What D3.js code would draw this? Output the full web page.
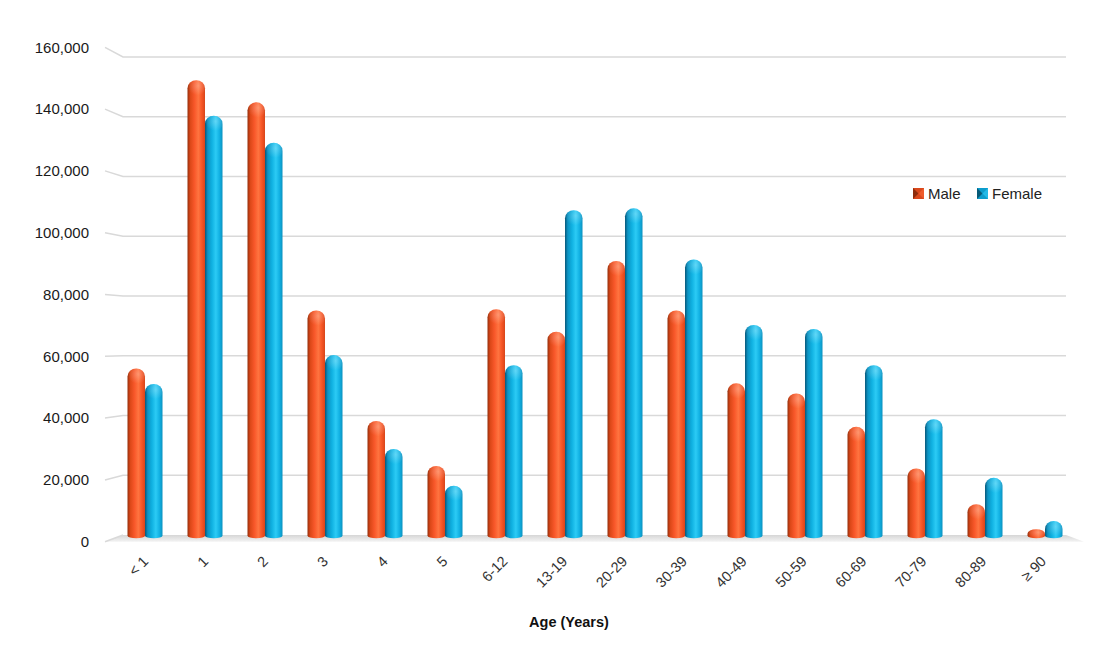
<!DOCTYPE html>
<html><head><meta charset="utf-8">
<script src="https://cdn.jsdelivr.net/npm/d3@7"></script>
<style>body{margin:0;background:#fff}svg{display:block}</style>
</head><body>
<svg id="c" width="1113" height="653"></svg>
<script>
const categories = ["< 1","1","2","3","4","5","6-12","13-19","20-29","30-39","40-49","50-59","60-69","70-79","80-89","\u2265 90"];
const seriesNames = ["Male","Female"];
const maleValues = [55900,150800,143500,75000,38600,23800,75400,68000,91300,75000,51000,47700,36700,23000,11200,3000];
const femaleValues = [50800,139100,130200,60300,29400,17300,57000,108000,108600,91800,70200,68900,57000,39200,19900,5700];
const yTicks = [0,20000,40000,60000,80000,100000,120000,140000,160000];
const xTitle = "Age (Years)";

const svg = d3.select("#c");
const font = "'Liberation Sans', Arial, sans-serif";

const yFront = d3.scaleLinear().domain([0,160000]).range([541.7,47.3]);
const yBack = d3.scaleLinear().domain([0,160000]).range([535,57]);
const yBar = d3.scaleLinear().domain([0,160000]).range([538.3,52.2]);
const x0 = d3.scalePoint().domain(categories).range([115,1075]).padding(0.5);
const xLabel = d3.scalePoint().domain(categories).range([116.2,1073.8]).padding(0.5);
const x1 = d3.scaleBand().domain(seriesNames).range([-17.5,17.5]);

const defs = svg.append("defs");
function cylGrad(id, stops){
  const g = defs.append("linearGradient").attr("id",id).attr("x1","0").attr("x2","1").attr("y1","0").attr("y2","0");
  stops.forEach(s=>g.append("stop").attr("offset",s[0]).attr("stop-color",s[1]));
}
cylGrad("gM",[[0,"#962f0c"],[0.16,"#dc4818"],[0.4,"#f8582a"],[0.62,"#ff7440"],[0.82,"#f65525"],[1,"#d8461a"]]);
cylGrad("gF",[[0,"#08587a"],[0.16,"#0c94c4"],[0.4,"#10b2e2"],[0.62,"#2ccbf5"],[0.82,"#12b2e4"],[1,"#0c92c0"]]);
const fg = defs.append("linearGradient").attr("id","floor").attr("x1","0").attr("x2","0").attr("y1","0").attr("y2","1");
fg.append("stop").attr("offset",0).attr("stop-color","#d6d6d6");
fg.append("stop").attr("offset",1).attr("stop-color","#f3f3f3");
const capG = defs.append("radialGradient").attr("id","cap").attr("cx","0.6").attr("cy","0.35").attr("r","0.6");
capG.append("stop").attr("offset",0).attr("stop-color","#fff").attr("stop-opacity",0.25);
capG.append("stop").attr("offset",1).attr("stop-color","#fff").attr("stop-opacity",0);

// floor
const fl = 105, bl = 123, br = 1066, fr = 1084;
svg.append("path")
  .attr("d",`M${fl},${yFront(0)}L${bl},${yBack(0)}L${br},${yBack(0)}L${fr},${yFront(0)}Z`)
  .attr("fill","url(#floor)");

// gridlines
svg.append("g").selectAll("path").data(yTicks).join("path")
  .attr("d",t=>`M${fl},${yFront(t)}L${bl},${yBack(t)}` + (t>0?`L${br},${yBack(t)}`:""))
  .attr("fill","none").attr("stroke","#d9d9d9").attr("stroke-width",1.5);

// y labels
svg.append("g").selectAll("text").data(yTicks).join("text")
  .attr("x",89).attr("y",t=>yFront(t)).attr("dy","0.35em")
  .attr("text-anchor","end").attr("font-family",font).attr("font-size",15).attr("fill","#1a1a1a")
  .text(d3.format(","));

// bars
const rows = categories.map((c,i)=>({c, vals:[{s:"Male",v:maleValues[i]},{s:"Female",v:femaleValues[i]}]}));
function barPath(x, w, v){
  const base = yBar(0), top = yBar(v);
  const h = base - top;
  const rx = w/2;
  const ry = Math.min(8, h/2);
  const by = Math.min(2.5, h/2);
  return `M${x},${base-by}L${x},${top+ry}A${rx},${ry} 0 0 1 ${x+w},${top+ry}L${x+w},${base-by}A${rx},${by} 0 0 1 ${x},${base-by}Z`;
}
const g = svg.append("g").selectAll("g").data(rows).join("g")
  .attr("transform",d=>`translate(${x0(d.c)},0)`);
g.selectAll("path.bar").data(d=>d.vals).join("path").attr("class","bar")
  .attr("d",d=>barPath(x1(d.s), x1.bandwidth(), d.v))
  .attr("fill",d=>d.s==="Male"?"url(#gM)":"url(#gF)");
g.selectAll("ellipse").data(d=>d.vals).join("ellipse")
  .attr("cx",d=>x1(d.s)+x1.bandwidth()/2)
  .attr("cy",d=>yBar(d.v)+Math.min(8,(yBar(0)-yBar(d.v))/2))
  .attr("rx",x1.bandwidth()/2).attr("ry",d=>Math.min(8,(yBar(0)-yBar(d.v))/2))
  .attr("fill","url(#cap)");

// x labels
svg.append("g").selectAll("text").data(categories).join("text")
  .attr("transform",c=>`translate(${xLabel(c)-4},${555}) rotate(-45)`)
  .attr("text-anchor","end").attr("dy","0.7em")
  .attr("font-family",font).attr("font-size",14.5).attr("fill","#333")
  .text(c=>c);

// x title
svg.append("text").attr("x",569).attr("y",622).attr("dy","0.35em")
  .attr("text-anchor","middle").attr("font-family",font).attr("font-weight","bold")
  .attr("font-size",14.5).attr("fill","#111").text(xTitle);

// legend
const legend = svg.append("g");
const legX = [913, 977];
const legCol = {Male:["#d9481c","#8e2c0c","#f26030"], Female:["#0c9ccc","#075a78","#28c0ee"]};
seriesNames.forEach((s,i)=>{
  const lg = legend.append("g").attr("transform",`translate(${legX[i]},188)`);
  const c = legCol[s];
  lg.append("rect").attr("width",11).attr("height",11).attr("fill",c[0]);
  lg.append("path").attr("d","M0,0L5.5,5.5L0,11Z").attr("fill",c[1]);
  lg.append("path").attr("d","M11,0L5.5,5.5L11,11Z").attr("fill",c[2]).attr("opacity",0.8);
  lg.append("text").attr("x",15).attr("y",5.5).attr("dy","0.36em")
    .attr("font-family",font).attr("font-size",15).attr("fill","#222").text(s);
});
</script>
</body></html>
